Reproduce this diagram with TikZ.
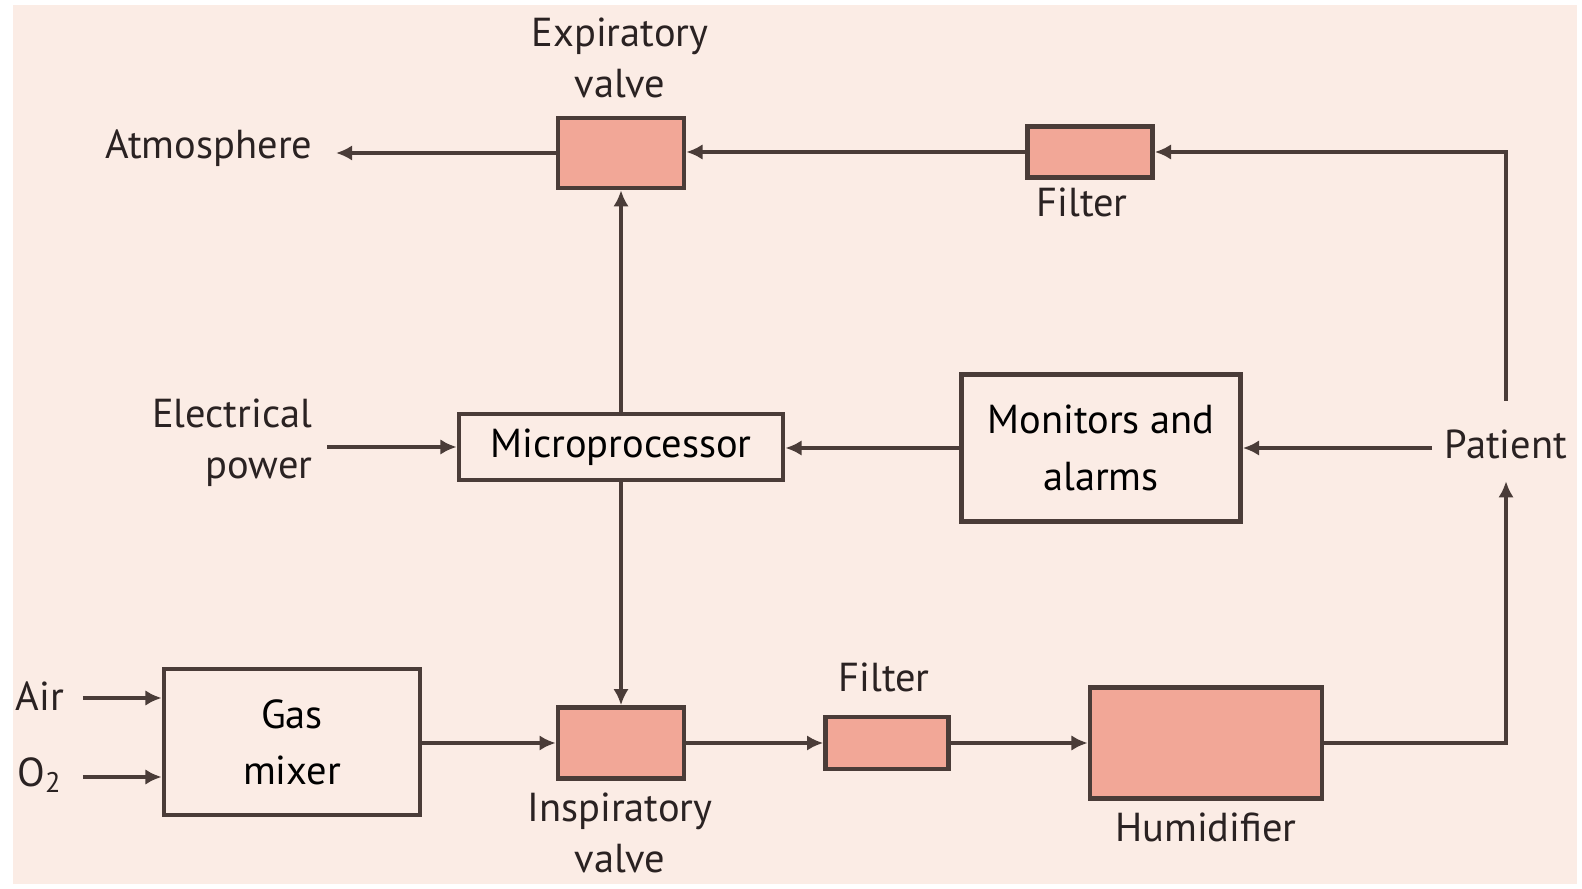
\documentclass[tikz,border=0pt]{standalone}
\usepackage{fontspec}
\setmainfont{PT Sans}
\usepackage{tikz}
\usetikzlibrary{positioning, arrows.meta, calc}
\definecolor{bgpink}{HTML}{FBECE5}
\definecolor{boxfill}{HTML}{F2A797}
\definecolor{wire}{HTML}{4A3C38}
\definecolor{ink}{HTML}{2A2222}
\tikzset{
  blockbox/.style={draw=wire, line width=1.3pt, fill=bgpink, align=center, inner sep=0pt, font=\fontsize{11.5}{16}\selectfont},
  valvebox/.style={draw=wire, line width=1.3pt, fill=boxfill, inner sep=0pt},
  lbl/.style={text=ink, align=center, inner sep=0pt, font=\fontsize{11.5}{14.5}\selectfont},
  flow/.style={draw=wire, line width=1.15pt, -{Latex[length=4.6pt,width=4.4pt]}}
}
\begin{document}
\begin{tikzpicture}[x=0.01cm,y=-0.01cm]
\useasboundingbox (0,0) rectangle (1582,889);
\fill[white] (0,0) rectangle (1582,889);
\fill[bgpink] (13,5) rectangle (1577,884);
% boxes
\node[valvebox, minimum width=1.26cm, minimum height=0.70cm] (expv) at (621,153) {};
\node[valvebox, minimum width=1.25cm, minimum height=0.51cm] (filtB) at (1090,152) {};
\node[blockbox, minimum width=3.24cm, minimum height=0.66cm] (micro) at (621,447) {Microprocessor};
\node[blockbox, minimum width=2.79cm, minimum height=1.47cm] (mon) at (1101,448) {Monitors and\\alarms};
\node[blockbox, minimum width=2.56cm, minimum height=1.46cm] (mixer) at (292,742) {Gas\\mixer};
\node[valvebox, minimum width=1.26cm, minimum height=0.71cm] (inspv) at (621,743) {};
\node[valvebox, minimum width=1.23cm, minimum height=0.52cm] (filtA) at (887,743) {};
\node[valvebox, minimum width=2.32cm, minimum height=1.11cm] (humid) at (1206,743) {};
% labels
\node[lbl] (expvlbl) at (620,58) {Expiratory\\valve};
\node[lbl, anchor=east] (atm) at (313,148) {Atmosphere};
\node[lbl] (filtBlbl) at (1082,202) {Filter};
\node[lbl] (pat) at (1506,444) {Patient};
\node[lbl, anchor=east, align=right] (elec) at (313,443) {Electrical\\power};
\node[lbl] (air) at (40,696) {Air};
\node[lbl] (oxy) at (40,775) {O\textsubscript{2}};
\node[lbl] (inspvlbl) at (620,833) {Inspiratory\\valve};
\node[lbl] (filtAlbl) at (884,677) {Filter};
\node[lbl] (humidlbl) at (1206,827) {Humidifier};
% connectors
\draw[flow, shorten >=0.23cm] (expv.west) -- (expv.west -| atm.east);
\draw[flow] (filtB.west) -- (filtB.west -| expv.east);
\draw[flow] ([yshift=0.28cm]pat.north) |- (filtB.east);
\draw[flow, shorten <=0.12cm] (pat.west |- mon.east) -- (mon.east);
\draw[flow] (mon.west) -- (mon.west -| micro.east);
\draw[flow] (micro.north) -- (expv.south);
\draw[flow] (micro.south) -- (inspv.north);
\draw[flow, shorten <=0.14cm] (elec.east |- micro.west) -- (micro.west);
\draw[flow, shorten <=0.18cm] (air.east |- 0,698) -- (mixer.west |- 0,698);
\draw[flow, shorten <=0.18cm] (air.east |- 0,777) -- (mixer.west |- 0,777);
\draw[flow] (mixer.east |- inspv.west) -- (inspv.west);
\draw[flow] (inspv.east) -- (filtA.west);
\draw[flow] (filtA.east) -- (humid.west);
\draw[flow, shorten >=0.22cm] (humid.east) -| (pat.south);
\end{tikzpicture}
\end{document}
